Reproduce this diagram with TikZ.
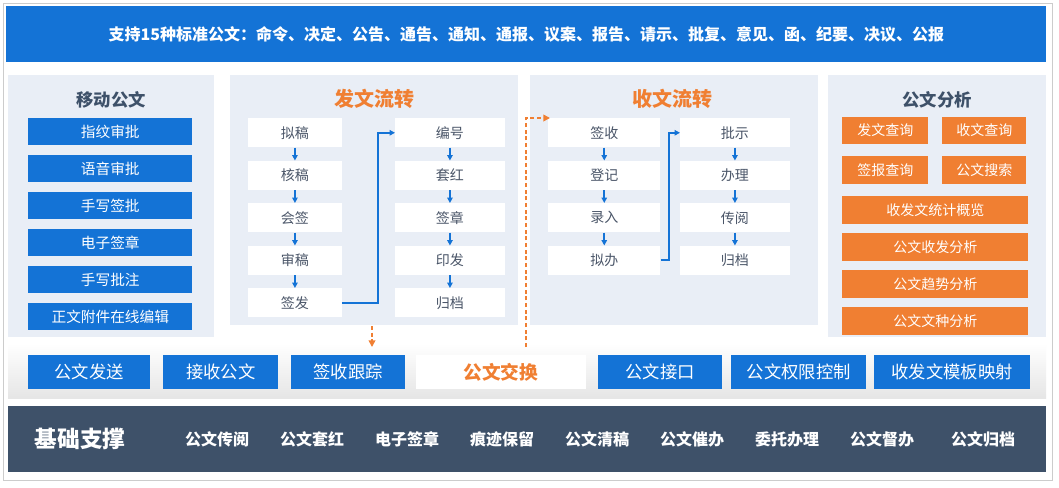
\documentclass[tikz,border=0pt]{standalone}
\usepackage{fontspec}
\setmainfont{Noto Sans CJK SC}
\usetikzlibrary{arrows.meta}
\definecolor{bl}{HTML}{1473D6}
\definecolor{or}{HTML}{F07F32}
\definecolor{pn}{HTML}{E9EEF6}
\definecolor{dk}{HTML}{3E5169}
\definecolor{tx}{HTML}{4A5568}
\begin{document}
\begin{tikzpicture}[x=0.75pt,y=-0.75pt,
 panel/.style={fill=pn,draw=none},
 bbtn/.style={fill=bl,text=white,font=\fontsize{11}{12}\selectfont,inner sep=0,anchor=north west},
 obtn/.style={fill=or,text=white,font=\fontsize{10.5}{12}\selectfont,inner sep=0,anchor=north west},
 wbox/.style={fill=white,text=tx,font=\fontsize{10.5}{12}\selectfont,inner sep=0,anchor=north west,minimum height=21.75pt},
 ttl/.style={font=\bfseries\fontsize{13}{14}\selectfont,text=dk},
 ottl/.style={font=\bfseries\fontsize{15}{16}\selectfont,text=or},
 ar/.style={-{Triangle[length=4pt,width=4pt]},bl,line width=1.2pt},
 dar/.style={-{Triangle[length=5pt,width=5pt]},or,line width=1.2pt,dash pattern=on 3pt off 2pt}]
\useasboundingbox (0,0) rectangle (1059,487);
\draw[gray!40,fill=white] (3,3) rectangle (1052,480);
\node[fill=bl,minimum width=780pt,minimum height=42pt,inner sep=0,anchor=north west,text=white,font=\bfseries\fontsize{12}{14}\selectfont] (top) at (6,6) {支持15种标准公文：命令、决定、公告、通告、通知、通报、议案、报告、请示、批复、意见、函、纪要、决议、公报};
% panels
\fill[panel] (8,75) rectangle (214,337);
\node[ttl] (t1) at (111,100) {移动公文};
\foreach \t [count=\i] in {指纹审批,语音审批,手写签批,电子签章,手写批注,正文附件在线编辑}
  \node[bbtn,minimum width=123pt,minimum height=20pt] (m\i) at (28,118+37*\i-37) {\t};
\fill[panel] (230,75) rectangle (518,325);
\node[ottl] (t2) at (374,99) {发文流转};
\fill[panel] (530,75) rectangle (818,325);
\node[ottl] (t3) at (672,99) {收文流转};
\foreach \t [count=\i] in {拟稿,核稿,会签,审稿,签发}
  \node[wbox,minimum width=70pt] (a\i) at (248,118+42.5*\i-42.5) {\t};
\foreach \t [count=\i] in {编号,套红,签章,印发,归档}
  \node[wbox,minimum width=82pt] (b\i) at (395,118+42.5*\i-42.5) {\t};
\foreach \t [count=\i] in {签收,登记,录入,拟办}
  \node[wbox,minimum width=84pt] (c\i) at (548,118+42.5*\i-42.5) {\t};
\foreach \t [count=\i] in {批示,办理,传阅,归档}
  \node[wbox,minimum width=82pt] (d\i) at (680,118+42.5*\i-42.5) {\t};
\foreach \p in {a,b}{\foreach \i [evaluate=\i as \j using int(\i+1)] in {1,...,4} \draw[ar] (\p\i) -- (\p\j);}
\foreach \p in {c,d}{\foreach \i [evaluate=\i as \j using int(\i+1)] in {1,...,3} \draw[ar] (\p\i) -- (\p\j);}
\draw[ar,line width=1.5pt] (a5.east) -- ++(36,0) |- (b1.west);
\draw[ar,line width=1.5pt] (c4.east) -- ++(8,0) |- (d1.west);
\fill[panel] (828,75) rectangle (1046,337);
\node[ttl] (t4) at (937,100) {公文分析};
\node[obtn,minimum width=64.5pt,minimum height=20pt] (o1) at (842,117) {发文查询};
\node[obtn,minimum width=63pt,minimum height=20pt] (o2) at (942,117) {收文查询};
\node[obtn,minimum width=64.5pt,minimum height=21pt] (o3) at (842,156) {签报查询};
\node[obtn,minimum width=63pt,minimum height=21pt] (o4) at (942,156) {公文搜索};
\foreach \t [count=\i] in {收发文统计概览,公文收发分析,公文趋势分析,公文文种分析}
  \node[obtn,minimum width=139.5pt,minimum height=21pt] (w\i) at (842,196+37*\i-37) {\t};
% exchange strip
\shade[top color=white,bottom color=gray!20] (8,343) rectangle (1046,398);
\foreach \n/\t/\xa/\xb in {e1/公文发送/28/150,e2/接收公文/163/278,e3/签收跟踪/291/405,e5/公文接口/598/722,e6/公文权限控制/731/866,e7/收发文模板映射/874/1030}
  \node[bbtn,font=\fontsize{13}{14}\selectfont,minimum height=25.5pt,minimum width={(\xb-\xa)*0.75pt}] (\n) at (\xa,355) {\t};
\node[fill=white,inner sep=0,anchor=north west,minimum height=25.5pt,minimum width=127pt,text=or,font=\bfseries\fontsize{14}{16}\selectfont] (e4) at (416,355) {公文交换};
\coordinate (p1) at (372,326);
\coordinate (p2) at (372,347);
\draw[dar] (p1) -- (p2);
\coordinate (q1) at (526,347);
\coordinate (q2) at (550,118);
\draw[dar] (q1) |- (q2);
% base
\fill[dk] (8,406) rectangle (1046,472);
\node[text=white,font=\bfseries\fontsize{17}{18}\selectfont] (base) at (80,439) {基础支撑};
\foreach \t/\x [count=\i] in {公文传阅/217,公文套红/312,电子签章/407,痕迹保留/502,公文清稿/597,公文催办/692,委托办理/787,公文督办/882,公文归档/983}
  \node[text=white,font=\bfseries\fontsize{12}{14}\selectfont] (f\i) at (\x,439) {\t};
\end{tikzpicture}
\end{document}
